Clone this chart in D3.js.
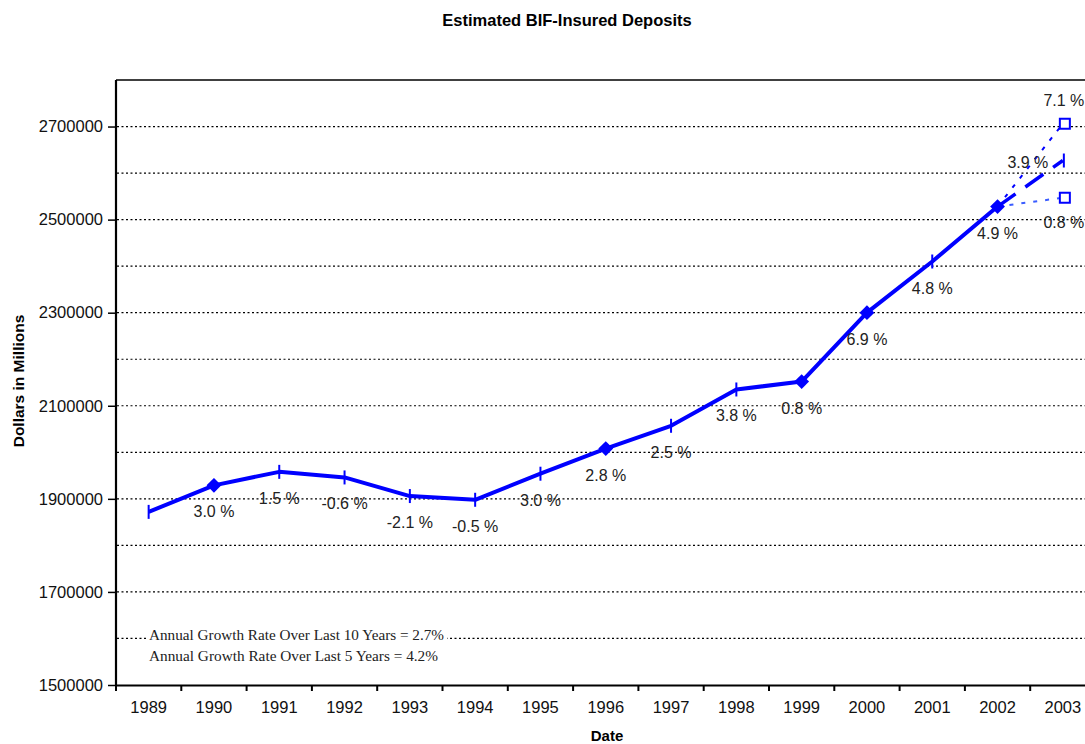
<!DOCTYPE html>
<html>
<head>
<meta charset="utf-8">
<script src="https://cdn.jsdelivr.net/npm/d3@7"></script>
<style>
  html, body { margin: 0; padding: 0; background: #fff; }
  svg { display: block; }
</style>
</head>
<body>
<svg id="chart" width="1085" height="744"></svg>
<script>
// ---- Data ----
const years = ["1989","1990","1991","1992","1993","1994","1995","1996","1997","1998","1999","2000","2001","2002","2003"];
const deposits = [1872000, 1929000, 1958000, 1946000, 1906000, 1898000, 1954000, 2008000, 2057000, 2135000, 2152000, 2300000, 2410000, 2528000];
const growthLabels = ["", "3.0 %", "1.5 %", "-0.6 %", "-2.1 %", "-0.5 %", "3.0 %", "2.8 %", "2.5 %", "3.8 %", "0.8 %", "6.9 %", "4.8 %", "4.9 %"];
const markerTypes = ["tick","diamond","tick","tick","tick","tick","tick","diamond","tick","tick","diamond","diamond","tick","diamond"];
const projYear = "2003";
const projBase = 2627000, projBaseLabel = "3.9 %";
const projHigh = 2706000, projHighLabel = "7.1 %";
const projLow = 2547000, projLowLabel = "0.8 %";
const yTickValues = [1500000, 1700000, 1900000, 2100000, 2300000, 2500000, 2700000];
const gridValues = [1600000, 1700000, 1800000, 1900000, 2000000, 2100000, 2200000, 2300000, 2400000, 2500000, 2600000, 2700000];
const notes = ["Annual Growth Rate Over Last 10 Years = 2.7%", "Annual Growth Rate Over Last 5 Years =  4.2%"];
const chartTitle = "Estimated BIF-Insured Deposits";
const xTitle = "Date";
const yTitle = "Dollars in Millions";

// ---- Layout ----
const svg = d3.select("#chart");
const pLeft = 116, pTop = 80, pBottom = 685, bandW = 65.3;
const pRight = pLeft + bandW * years.length;
const blue = "#0000ff";
const sans = "Arial, 'Liberation Sans', sans-serif";

const x = d3.scaleBand().domain(years).range([pLeft, pRight]).padding(0);
const y = d3.scaleLinear().domain([1500000, 2800000]).range([pBottom, pTop]);
const cx = d => x(d) + x.bandwidth() / 2;

// Title
svg.append("text").attr("x", 567).attr("y", 26).attr("text-anchor", "middle")
  .attr("font-family", sans).attr("font-weight", "bold")
  .attr("font-size", 16.5).attr("fill", "#000").text(chartTitle);

// Grid lines
svg.append("g").selectAll("line").data(gridValues).join("line")
  .attr("x1", pLeft + 1).attr("x2", pRight).attr("y1", d => y(d)).attr("y2", d => y(d))
  .attr("stroke", "#000").attr("stroke-width", 1.2).attr("stroke-dasharray", "2,2.5");

// Plot border top
svg.append("line").attr("x1", pLeft).attr("x2", pRight).attr("y1", pTop).attr("y2", pTop)
  .attr("stroke", "#000").attr("stroke-width", 1.5);

// Y axis
const yAxis = d3.axisLeft(y).tickValues(yTickValues).tickFormat(d3.format("d")).tickSizeOuter(0).tickSize(8).tickPadding(5);
const gy = svg.append("g").attr("transform", `translate(${pLeft},0)`).call(yAxis);
gy.select(".domain").attr("stroke", "#000").attr("stroke-width", 2.2).attr("d", `M0,${pTop}V${pBottom}`);
gy.selectAll(".tick line").attr("stroke", "#000").attr("stroke-width", 1.5);
gy.selectAll(".tick text").attr("font-family", sans).attr("font-size", 16.5).attr("fill", "#111");

// X axis
const xAxis = d3.axisBottom(x).tickSize(0).tickPadding(16).tickSizeOuter(0);
const gx = svg.append("g").attr("transform", `translate(0,${pBottom})`).call(xAxis);
gx.select(".domain").attr("stroke", "#000").attr("stroke-width", 2.2);
gx.selectAll(".tick text").attr("font-family", sans).attr("font-size", 16.5).attr("fill", "#111");
gx.append("g").selectAll("line").data(years).join("line")
  .attr("x1", d => x(d)).attr("x2", d => x(d)).attr("y1", 0).attr("y2", 6)
  .attr("stroke", "#000").attr("stroke-width", 2);

// Axis titles
svg.append("text").attr("x", 607).attr("y", 741).attr("text-anchor", "middle")
  .attr("font-family", sans).attr("font-weight", "bold").attr("font-size", 15).text(xTitle);
svg.append("text").attr("transform", "translate(24,381) rotate(-90)").attr("text-anchor", "middle")
  .attr("font-family", sans).attr("font-weight", "bold").attr("font-size", 15.5).text(yTitle);

// Annotation box
const noteG = svg.append("g");
noteG.append("rect").attr("x", 148).attr("y", 624).attr("width", 299).attr("height", 44).attr("fill", "#fff");
noteG.selectAll("text").data(notes).join("text")
  .attr("x", 149).attr("y", (d, i) => 640 + i * 21)
  .attr("font-family", "'Times New Roman', 'Liberation Serif', serif").attr("font-size", 15)
  .attr("fill", "#222")
  .attr("textLength", (d, i) => i === 0 ? 295 : 289).attr("lengthAdjust", "spacingAndGlyphs")
  .text(d => d);

// Projection lines
const last = deposits.length - 1;
const x0 = cx(years[last]), y0 = y(deposits[last]);
svg.append("line").attr("x1", x0).attr("y1", y0).attr("x2", cx(projYear)).attr("y2", y(projLow))
  .attr("stroke", "#3a5cff").attr("stroke-width", 2).attr("stroke-dasharray", "4,8");
svg.append("line").attr("x1", x0).attr("y1", y0).attr("x2", cx(projYear)).attr("y2", y(projHigh))
  .attr("stroke", blue).attr("stroke-width", 2).attr("stroke-dasharray", "4,8");
svg.append("line").attr("x1", x0).attr("y1", y0).attr("x2", cx(projYear)).attr("y2", y(projBase))
  .attr("stroke", blue).attr("stroke-width", 3.5).attr("stroke-dasharray", "22,12");

// Main line
const pts = deposits.map((v, i) => ({ year: years[i], v, label: growthLabels[i], m: markerTypes[i] }));
svg.append("path").datum(pts)
  .attr("d", d3.line().x(d => cx(d.year)).y(d => y(d.v)))
  .attr("fill", "none").attr("stroke", blue).attr("stroke-width", 4).attr("stroke-linejoin", "round");

// Markers
const mg = svg.append("g");
pts.forEach(p => {
  const px = cx(p.year), py = y(p.v);
  if (p.m === "tick") {
    mg.append("line").attr("x1", px).attr("x2", px).attr("y1", py - 7).attr("y2", py + 7)
      .attr("stroke", blue).attr("stroke-width", 2);
  } else {
    mg.append("path").attr("d", d3.symbol(d3.symbolDiamond2, 140)())
      .attr("transform", `translate(${px},${py})`).attr("fill", blue);
  }
});
mg.append("line").attr("x1", cx(projYear) + 1).attr("x2", cx(projYear) + 1)
  .attr("y1", y(projBase) - 7).attr("y2", y(projBase) + 7).attr("stroke", blue).attr("stroke-width", 2);
[projHigh, projLow].forEach(v => {
  mg.append("rect").attr("x", cx(projYear) + 2 - 5).attr("y", y(v) - 5).attr("width", 10).attr("height", 10)
    .attr("fill", "#fff").attr("stroke", blue).attr("stroke-width", 2);
});

// Labels
svg.append("g").selectAll("text").data(pts.filter(p => p.label)).join("text")
  .attr("x", d => cx(d.year)).attr("y", d => y(d.v) + 32)
  .attr("text-anchor", "middle").attr("font-family", sans).attr("font-size", 16)
  .attr("fill", "#222").text(d => d.label);
svg.append("text").attr("x", cx(projYear) - 35).attr("y", y(projBase) + 7)
  .attr("text-anchor", "middle").attr("font-family", sans).attr("font-size", 16).attr("fill", "#222").text(projBaseLabel);
svg.append("text").attr("x", cx(projYear) + 1).attr("y", y(projHigh) - 18)
  .attr("text-anchor", "middle").attr("font-family", sans).attr("font-size", 16).attr("fill", "#222").text(projHighLabel);
svg.append("text").attr("x", cx(projYear) + 1).attr("y", y(projLow) + 30)
  .attr("text-anchor", "middle").attr("font-family", sans).attr("font-size", 16).attr("fill", "#222").text(projLowLabel);
</script>
</body>
</html>
